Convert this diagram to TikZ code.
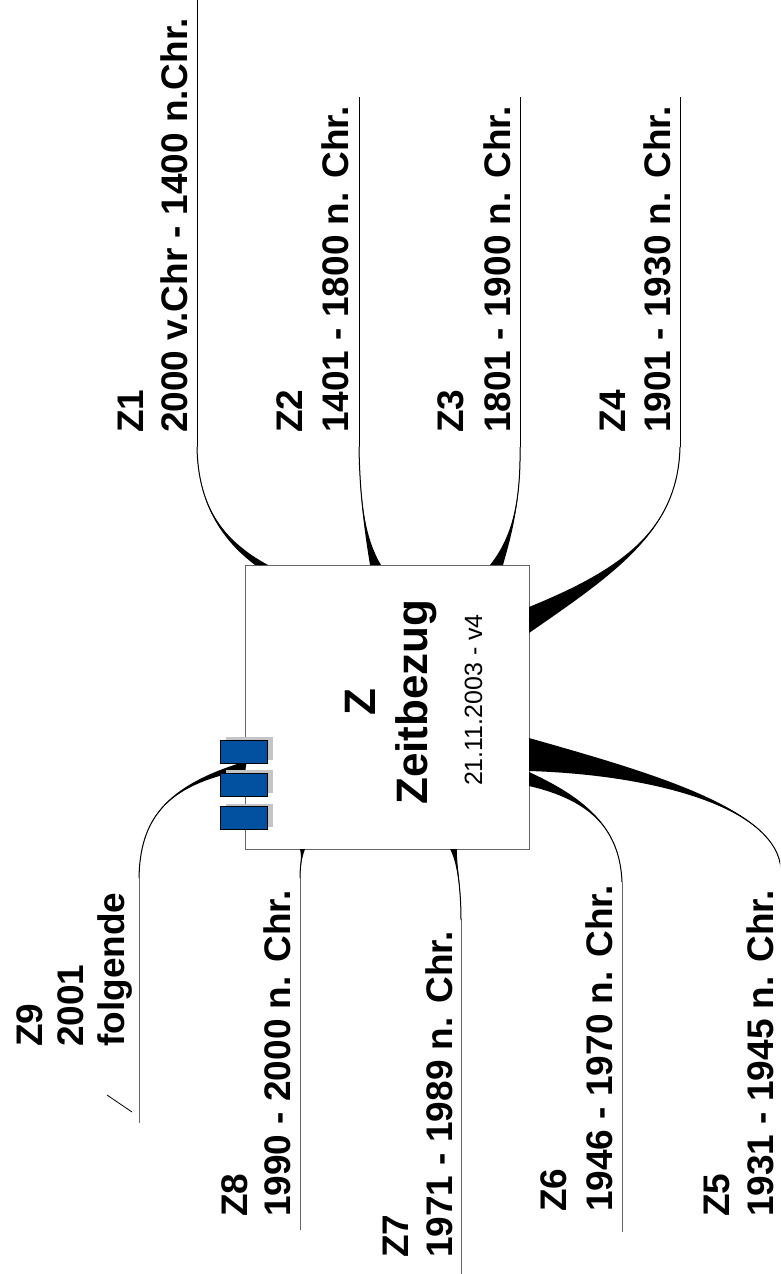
\documentclass[tikz,border=0pt]{standalone}
\usepackage{fontspec}
\setmainfont{Liberation Sans}
\usetikzlibrary{calc,shadows}

\definecolor{tabblau}{RGB}{2,80,160}

% tapered branch: leaf end, two controls, two points on the box
\newcommand{\zweig}[5]{%
  \fill (#1) .. controls #2 and #3 .. (#4) -- (#5) .. controls #3 and #2 .. (#1) -- cycle;
  \draw[line width=1pt] (#1) .. controls #2 and #3 .. ($(#4)!.5!(#5)$);}

\tikzset{
  blatt/.style={rotate=90, anchor=base west, inner sep=0pt, font=\fontsize{37}{44}\selectfont\bfseries},
  mitte/.style={rotate=90, anchor=base, inner sep=0pt},
  reiter/.style={rectangle, draw=black, line width=.8pt, fill=tabblau, minimum width=47pt, minimum height=23pt, inner sep=0pt,
    general shadow={fill=black!23, shadow xshift=6pt, shadow yshift=3pt}},
  linie/.style={line width=1pt},
}

\begin{document}
\begin{tikzpicture}[x=1pt, y=-1pt]
\clip (0,0) rectangle (780,1274);
\fill[white] (0,0) rectangle (780,1274);

% Zentrum
\node [rectangle, draw=black!60, line width=1pt, fill=white, minimum width=284pt, minimum height=284pt, inner sep=0pt] (zb) at (387,707) {};

% Zweige oben
\coordinate (z1a) at (197,447); \coordinate (z1e) at (197,0);
\coordinate (z1b) at (255,565); \coordinate (z1c) at (268,565);
\draw[linie] (z1a) -- (z1e);
\zweig{z1a}{(198,505)}{(222,540)}{z1b}{z1c}

\coordinate (z2a) at (359,447); \coordinate (z2e) at (359,97);
\coordinate (z2b) at (370,565); \coordinate (z2c) at (381,565);
\draw[linie] (z2a) -- (z2e);
\zweig{z2a}{(360,505)}{(366,540)}{z2b}{z2c}

\coordinate (z3a) at (520,447); \coordinate (z3e) at (520,97);
\coordinate (z3b) at (490,565); \coordinate (z3c) at (503,565);
\draw[linie] (z3a) -- (z3e);
\zweig{z3a}{(521,505)}{(510,540)}{z3b}{z3c}

\coordinate (z4a) at (680,447); \coordinate (z4e) at (680,97);
\coordinate (z4b) at (529,607); \coordinate (z4c) at (529,633);
\draw[linie] (z4a) -- (z4e);
\zweig{z4a}{(678,530)}{(620,570)}{z4b}{z4c}

% Zweige unten
\coordinate (z5a) at (781,870); \coordinate (z5e) at (781,1232);
\coordinate (z5b) at (529,738); \coordinate (z5c) at (529,771);
\draw[linie, black!60] (z5a) -- (z5e);
\zweig{z5a}{(778,810)}{(660,775)}{z5b}{z5c}

\coordinate (z6a) at (622,882); \coordinate (z6e) at (622,1232);
\coordinate (z6b) at (529,772); \coordinate (z6c) at (529,786);
\draw[linie, black!60] (z6a) -- (z6e);
\zweig{z6a}{(620,830)}{(590,800)}{z6b}{z6c}

\coordinate (z7a) at (461,920); \coordinate (z7e) at (461,1274);
\coordinate (z7b) at (450,849); \coordinate (z7c) at (457,849);
\draw[linie, black!60] (z7a) -- (z7e);
\zweig{z7a}{(461,885)}{(456,860)}{z7b}{z7c}

\coordinate (z8a) at (300,878); \coordinate (z8e) at (300,1230);
\coordinate (z8b) at (300,849); \coordinate (z8c) at (305,849);
\draw[linie, black!60] (z8a) -- (z8e);
\zweig{z8a}{(300,865)}{(302,858)}{z8b}{z8c}

\coordinate (z9a) at (139,878); \coordinate (z9e) at (139,1123);
\coordinate (z9b) at (247,761); \coordinate (z9c) at (245,770);
\draw[linie, black!60] (z9a) -- (z9e);
\zweig{z9a}{(140,820)}{(165,785)}{z9b}{z9c}
\draw[line width=.8pt] (107,1095) -- (132,1112);

% Reiter
\node [reiter] (t1) at (243.5,751.5) {};
\node [reiter] (t2) at (243.5,784.5) {};
\node [reiter] (t3) at (243.5,818) {};

% Texte Mitte
\node [mitte, font=\fontsize{44}{50}\selectfont\bfseries] (zk) at (375,702) {Z};
\node [mitte, font=\fontsize{44}{50}\selectfont\bfseries] (zn) at (427,702) {Zeitbezug};
\node [mitte, font=\fontsize{25}{30}\selectfont] (zd) at (482,700) {21.11.2003 - v4};

% Texte Zweige
\node [blatt] (z1k) at (143,433) {Z1};
\node [blatt] (z1t) at (187,433) {2000 v.Chr - 1400 n.Chr.};
\node [blatt] (z2k) at (302,433) {Z2};
\node [blatt] (z2t) at (348,433) {1401 - 1800 n. Chr.};
\node [blatt] (z3k) at (463,433) {Z3};
\node [blatt] (z3t) at (510,433) {1801 - 1900 n. Chr.};
\node [blatt] (z4k) at (625,433) {Z4};
\node [blatt] (z4t) at (670,433) {1901 - 1930 n. Chr.};
\node [blatt] (z5k) at (729,1217) {Z5};
\node [blatt] (z5t) at (773,1217) {1931 - 1945 n. Chr.};
\node [blatt] (z6k) at (566,1212) {Z6};
\node [blatt] (z6t) at (612,1212) {1946 - 1970 n. Chr.};
\node [blatt] (z7k) at (408,1258) {Z7};
\node [blatt] (z7t) at (452,1258) {1971 - 1989 n. Chr.};
\node [blatt] (z8k) at (247,1217) {Z8};
\node [blatt] (z8t) at (290,1217) {1990 - 2000 n. Chr.};
\node [blatt] (z9k) at (42,1047) {Z9};
\node [blatt] (z9j) at (83,1047) {2001};
\node [blatt] (z9f) at (124,1047) {folgende};
\end{tikzpicture}
\end{document}
